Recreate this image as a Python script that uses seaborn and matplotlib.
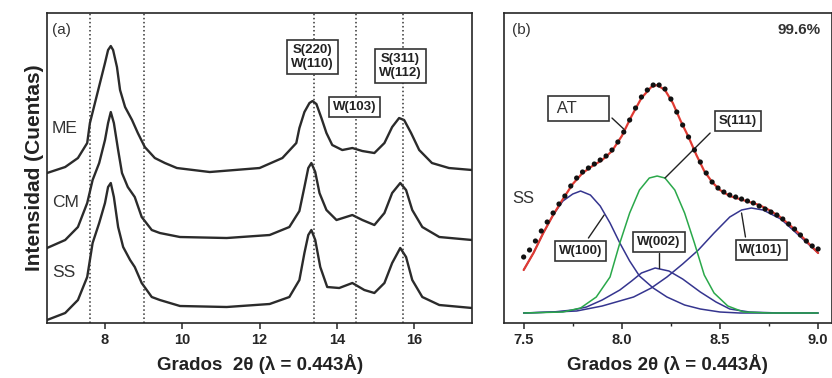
import matplotlib
matplotlib.use("Agg")
import matplotlib.pyplot as plt
import seaborn as sns

# ---- panel (a): XRD patterns (2theta, counts in arbitrary units) ----
me_x = [6.50, 6.97, 7.30, 7.54, 7.61, 7.74, 7.87, 8.00, 8.08, 8.15, 8.21, 8.31, 8.39, 8.52, 8.70,
        8.85, 9.03, 9.29, 9.55, 9.86, 10.71, 12.00, 12.59, 12.95, 13.03, 13.16, 13.29, 13.37,
        13.47, 13.60, 13.73, 13.88, 14.14, 14.40, 14.66, 14.97, 15.23, 15.43, 15.61, 15.74,
        15.92, 16.13, 16.46, 16.90, 17.50]
me_y = [150, 156, 165, 180, 200, 220, 240, 260, 273, 277, 273, 256, 233, 216, 203,
        190, 176, 165, 160, 155, 151, 155, 165, 180, 195, 211, 220, 222,
        219, 205, 190, 178, 173, 175, 172, 170, 180, 196, 205, 203,
        190, 173, 160, 155, 153]

cm_x = [6.50, 6.97, 7.30, 7.54, 7.68, 7.85, 8.00, 8.08, 8.15, 8.23, 8.34, 8.44, 8.59, 8.77,
        8.95, 9.21, 9.42, 9.94, 11.15, 12.26, 12.77, 13.03, 13.16, 13.26, 13.34, 13.44, 13.55,
        13.73, 13.99, 14.40, 14.66, 14.97, 15.23, 15.43, 15.64, 15.79, 15.95, 16.21, 16.65, 17.50]
cm_y = [75, 83, 96, 120, 143, 160, 183, 200, 211, 200, 173, 150, 136, 126,
        106, 93, 90, 86, 85, 88, 96, 112, 136, 155, 160, 151, 130,
        113, 103, 108, 103, 98, 110, 130, 140, 133, 113, 96, 86, 83]

ss_x = [6.50, 6.97, 7.30, 7.54, 7.68, 7.85, 8.00, 8.08, 8.15, 8.23, 8.34, 8.47, 8.65, 8.77,
        8.95, 9.21, 9.42, 9.94, 11.15, 12.26, 12.77, 13.03, 13.16, 13.26, 13.34, 13.44, 13.57,
        13.75, 14.06, 14.40, 14.71, 14.97, 15.23, 15.43, 15.64, 15.79, 15.95, 16.21, 16.65, 17.50]
ss_y = [3, 10, 23, 46, 80, 100, 120, 136, 140, 126, 96, 76, 63, 56,
        40, 26, 23, 17, 16, 19, 26, 43, 70, 88, 93, 83, 56,
        36, 35, 40, 33, 30, 40, 60, 75, 66, 43, 26, 18, 15]

ref_lines = [7.6, 9.0, 13.4, 14.5, 15.7]

# ---- panel (b): fit of the SS main peak ----
obs_x = [7.50, 7.53, 7.56, 7.59, 7.62, 7.65, 7.68, 7.71, 7.74, 7.77, 7.80, 7.83, 7.86, 7.89, 7.92,
         7.95, 7.98, 8.01, 8.04, 8.07, 8.10, 8.13, 8.16, 8.19, 8.22, 8.25, 8.28, 8.31, 8.34, 8.37,
         8.40, 8.43, 8.46, 8.49, 8.52, 8.55, 8.58, 8.61, 8.64, 8.67, 8.70, 8.73, 8.76, 8.79, 8.82,
         8.85, 8.88, 8.91, 8.94, 8.97, 9.00]
obs_y = [66, 73, 82, 92, 101, 110, 119, 127, 137, 145, 151, 155, 159, 163, 167,
         173, 181, 191, 203, 215, 226, 233, 238, 238, 234, 224, 211, 198, 186, 173,
         161, 150, 141, 135, 131, 128, 126, 124, 122, 120, 117, 114, 111, 108, 104,
         99, 94, 88, 82, 77, 74]

fit_x = [7.50, 7.55, 7.60, 7.65, 7.70, 7.75, 7.80, 7.85, 7.90, 7.95, 8.00, 8.05, 8.10, 8.15, 8.18,
         8.22, 8.26, 8.30, 8.34, 8.38, 8.42, 8.46, 8.50, 8.55, 8.60, 8.65, 8.70, 8.75, 8.80,
         8.85, 8.90, 8.95, 9.00]
fit_y = [53, 70, 90, 108, 124, 139, 150, 157, 163, 172, 187, 207, 225, 236, 238,
         233, 220, 202, 186, 168, 152, 141, 133, 127, 124, 121, 118, 113, 107,
         99, 90, 80, 70]

w100_x = [7.50, 7.55, 7.60, 7.65, 7.70, 7.75, 7.79, 7.84, 7.89, 7.94, 7.99, 8.04, 8.09, 8.16,
          8.23, 8.32, 8.40, 8.50, 8.60, 8.75, 9.00]
w100_y = [53, 70, 90, 108, 122, 129, 132, 128, 117, 100, 80, 62, 47, 35,
          26, 18, 14, 11, 10, 10, 10]

s111_x = [7.50, 7.70, 7.79, 7.87, 7.94, 7.99, 8.04, 8.09, 8.14, 8.18, 8.22, 8.27, 8.32, 8.37,
          8.42, 8.47, 8.54, 8.62, 8.75, 9.00]
s111_y = [10, 11, 15, 26, 46, 80, 110, 133, 145, 147, 145, 133, 110, 80,
          48, 30, 17, 11, 10, 10]

w002_x = [7.50, 7.65, 7.75, 7.82, 7.90, 7.99, 8.05, 8.10, 8.17, 8.24, 8.31, 8.40, 8.48, 8.55,
          8.65, 8.80, 9.00]
w002_y = [10, 11, 13, 16, 23, 33, 42, 50, 55, 52, 44, 31, 21, 14,
          11, 10, 10]

w101_x = [7.50, 7.65, 7.77, 7.90, 8.06, 8.15, 8.23, 8.31, 8.39, 8.47, 8.55, 8.61, 8.66, 8.72,
          8.81, 8.90, 9.00]
w101_y = [10, 11, 12, 17, 26, 35, 46, 59, 73, 90, 106, 113, 115, 113,
          104, 88, 70]

sns.set_theme(style="ticks")
plt.rcParams["font.family"] = ["Liberation Sans Narrow", "Liberation Sans", "DejaVu Sans"]
plt.rcParams["axes.linewidth"] = 1.2

fig = plt.figure(figsize=(8.32, 3.78), dpi=100)
ax1 = fig.add_axes([0.0565, 0.1455, 0.511, 0.820])
ax2 = fig.add_axes([0.6058, 0.1455, 0.394, 0.820])

dark = "#2b2b2b"
sans = ["Liberation Sans", "DejaVu Sans"]
for xs, ys in [(me_x, me_y), (cm_x, cm_y), (ss_x, ss_y)]:
    sns.lineplot(x=xs, y=ys, ax=ax1, color=dark, lw=1.7, sort=False)
for v in ref_lines:
    ax1.axvline(v, color="#333333", ls=":", lw=1.1)

ax1.set_xlim(6.5, 17.5)
ax1.set_ylim(0, 310)
ax1.set_xticks([8, 10, 12, 14, 16])
ax1.set_yticks([])
ax1.tick_params(axis="x", direction="out", length=4, width=1.1, labelsize=10.5)
for lab in ax1.get_xticklabels():
    lab.set_fontweight("bold")
ax1.set_xlabel("Grados  2θ (λ = 0.443Å)", fontsize=13.5, fontweight="bold",
               family=sans, labelpad=5, color="#222222")
ax1.set_ylabel("Intensidad (Cuentas)", fontsize=15, fontweight="bold",
               family=sans, labelpad=2, color="#222222")

txt = dict(color="#333333", family=sans)
ax1.text(6.63, 293, "(a)", fontsize=11, va="center", **txt)
ax1.text(6.63, 195, "ME", fontsize=12.5, va="center", **txt)
ax1.text(6.63, 121, "CM", fontsize=12.5, va="center", **txt)
ax1.text(6.63, 51, "SS", fontsize=12.5, va="center", **txt)

box = dict(boxstyle="square,pad=0.3", fc="white", ec="#333333", lw=1.2)
bt = dict(fontsize=9.5, fontweight="bold", ha="center", va="center", bbox=box,
          linespacing=1.25, color="#222222", family=sans)
ax1.text(13.37, 266, "S(220)\nW(110)", **bt)
ax1.text(14.45, 216, "W(103)", **bt)
ax1.text(15.64, 257, "S(311)\nW(112)", **bt)

# panel (b)
navy = "#35358f"
sns.lineplot(x=w002_x, y=w002_y, ax=ax2, color=navy, lw=1.1)
sns.lineplot(x=w101_x, y=w101_y, ax=ax2, color=navy, lw=1.1)
sns.lineplot(x=w100_x, y=w100_y, ax=ax2, color=navy, lw=1.1)
sns.lineplot(x=s111_x, y=s111_y, ax=ax2, color="#2aa84a", lw=1.1)
sns.lineplot(x=fit_x, y=fit_y, ax=ax2, color="#e03a32", lw=1.6)
sns.scatterplot(x=obs_x, y=obs_y, ax=ax2, color="#111111", s=14, edgecolor="none", zorder=5)

ax2.set_xlim(7.4, 9.07)
ax2.set_ylim(0, 310)
ax2.set_xticks([7.5, 8.0, 8.5, 9.0])
ax2.set_xticklabels(["7.5", "8.0", "8.5", "9.0"])
ax2.set_xticks([7.75, 8.25, 8.75], minor=True)
ax2.set_yticks([])
ax2.tick_params(axis="x", which="major", direction="out", length=4, width=1.1, labelsize=10.5)
ax2.tick_params(axis="x", which="minor", direction="out", length=2.5, width=1.0)
for lab in ax2.get_xticklabels():
    lab.set_fontweight("bold")
ax2.set_xlabel("Grados 2θ (λ = 0.443Å)", fontsize=13.5, fontweight="bold",
               family=sans, labelpad=5, color="#222222")

ax2.text(7.44, 293, "(b)", fontsize=11, va="center", **txt)
ax2.text(9.015, 293, "99.6%", fontsize=11, fontweight="bold", ha="right", va="center",
         color="#333333", family=sans)
ax2.text(7.44, 125, "SS", fontsize=12, va="center", **txt)

leaders = [((7.95, 205), (8.01, 194)), ((8.45, 190), (8.22, 145)), ((7.83, 85), (7.91, 108)),
           ((8.19, 70), (8.19, 55)), ((8.63, 86), (8.61, 110))]
for (x0, y0), (x1, y1) in leaders:
    ax2.plot([x0, x1], [y0, y1], color="#222222", lw=1.0)

ax2.text(7.78, 215, " AT      ", fontsize=12, ha="center", va="center", color="#333333",
         family=sans,
         bbox=dict(boxstyle="square,pad=0.3", fc="white", ec="#333333", lw=1.2))
ax2.text(8.59, 202, "S(111)", **bt)
ax2.text(7.79, 72, "W(100)", **bt)
ax2.text(8.19, 81, "W(002)", **bt)
ax2.text(8.71, 73, "W(101)", **bt)

fig.savefig("out.png", dpi=100)
